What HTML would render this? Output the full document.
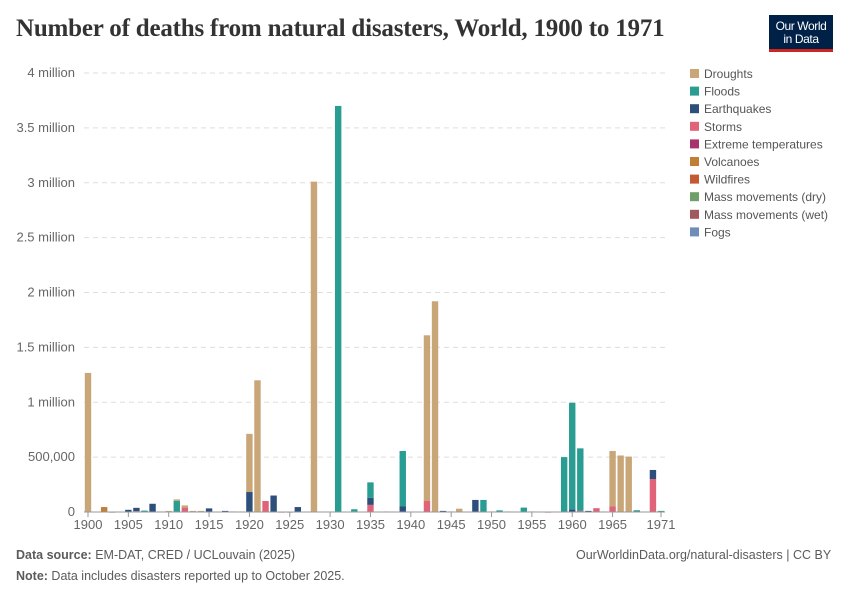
<!DOCTYPE html>
<html><head><meta charset="utf-8"><style>
body{margin:0;background:#fff;font-family:"Liberation Sans",sans-serif;}
#wrap{position:relative;width:850px;height:600px;overflow:hidden;}
.title{position:absolute;left:16px;top:15px;font-family:"Liberation Serif",serif;font-size:25px;font-weight:bold;color:#333;letter-spacing:-0.2px;}
.logo{position:absolute;left:769px;top:15px;width:64px;height:37px;background:#002147;color:#fff;font-size:12px;line-height:13px;text-align:center;border-bottom:3px solid #ce261e;box-sizing:border-box;padding-top:5px;letter-spacing:-0.4px;}
.foot{position:absolute;font-size:12.5px;color:#5b5b5b;}
</style></head><body>
<div id="wrap">
<div class="title">Number of deaths from natural disasters, World, 1900 to 1971</div>
<div class="logo">Our World<br>in Data</div>
<svg id="chart" width="850" height="600" style="position:absolute;left:0;top:0"></svg>
<div class="foot" style="left:16px;top:548px"><b>Data source:</b> EM-DAT, CRED / UCLouvain (2025)</div>
<div class="foot" style="left:576px;top:548px">OurWorldinData.org/natural-disasters | CC BY</div>
<div class="foot" style="left:16px;top:569px"><b>Note:</b> Data includes disasters reported up to October 2025.</div>
</div>
<script>
const series = ["Droughts","Floods","Earthquakes","Storms","Extreme temperatures","Volcanoes","Wildfires","Mass movements (dry)","Mass movements (wet)","Fogs"];
const colors = ["#c9a677","#2a9d93","#2c4f7c","#e0637a","#a8336b","#c07e36","#c45a33","#6fa06a","#a05a5f","#6f8db9"];
const years = [];
for(let y=1900;y<=1971;y++) years.push(y);
// values in thousands
const droughts = {1900:1267,1910:10,1911:15,1912:20,1913:10,1914:10,1919:5,1920:530,1921:1200,1928:3010,1942:1510,1943:1920,1946:30,1965:506,1966:515,1967:505};
const floods = {1907:5,1911:100,1931:3700,1933:20,1935:140,1939:506,1949:110,1950:5,1951:15,1952:5,1954:40,1955:5,1959:500,1960:970,1961:570,1968:8,1971:10};
const quakes = {1905:20,1906:30,1907:8,1908:75,1909:5,1915:33,1917:10,1918:5,1920:182,1923:150,1926:45,1933:5,1935:65,1939:50,1944:10,1945:5,1948:110,1960:25,1962:10,1968:8,1970:83};
const storms = {1906:8,1912:40,1922:100,1924:3,1925:3,1935:65,1937:5,1942:100,1957:3,1961:10,1963:35,1964:5,1965:50,1970:300};
const volcanoes = {1902:45,1903:3};
const yTicks = [0,500000,1000000,1500000,2000000,2500000,3000000,3500000,4000000];
const yLabels = ["0","500,000","1 million","1.5 million","2 million","2.5 million","3 million","3.5 million","4 million"];
const xTicks = [1900,1905,1910,1915,1920,1925,1930,1935,1940,1945,1950,1955,1960,1965,1971];

const svg=document.getElementById('chart');
const NS="http://www.w3.org/2000/svg";
const x0=88,x1=661,y0=512,y1=73;
const xs=yr=>x0+(yr-1900)*(x1-x0)/71;
const ys=v=>y0-v/4000000*(y0-y1);
function mk(t,a){const e=document.createElementNS(NS,t);for(const k in a)e.setAttribute(k,a[k]);svg.appendChild(e);return e;}
yTicks.forEach((v,i)=>{
  if(v>0){const l=mk('line',{x1:x0-4,x2:x1+4,y1:ys(v),y2:ys(v),stroke:'#ddd','stroke-dasharray':'5,4'});
  
  }
  const t=mk('text',{x:75,y:ys(v)+4,'text-anchor':'end','font-size':'13',fill:'#666'});
  t.textContent=yLabels[i];
  
  
});
const order=[[storms,3],[quakes,2],[volcanoes,5],[floods,1],[droughts,0]];
years.forEach(yr=>{
  let acc=0;
  order.forEach(([d,ci])=>{
    const v=(d[yr]||0)*1000;
    if(v<=0)return;
    const r=mk('rect',{x:xs(yr)-3.2,width:6.4,y:ys(acc+v),height:Math.max(ys(acc)-ys(acc+v),1),fill:colors[ci]});
    
    
    acc+=v;
  });
});
mk('line',{x1:x0-4,x2:x1+4,y1:y0,y2:y0,stroke:'#999'});
xTicks.forEach(yr=>{
  mk('line',{x1:xs(yr),x2:xs(yr),y1:y0,y2:y0+5,stroke:'#999'});
  const t=mk('text',{x:xs(yr),y:y0+17,'text-anchor':'middle','font-size':'13',fill:'#666'});
  t.textContent=yr;
  
  
});
series.forEach((s,i)=>{
  const r=mk('rect',{x:690,y:69+i*17.6,width:9,height:9,fill:colors[i]});
  
  
  const t=mk('text',{x:704,y:78+i*17.6,'font-size':'12',fill:'#555'});
  t.textContent=s;
  
  
});
</script>
</body></html>
